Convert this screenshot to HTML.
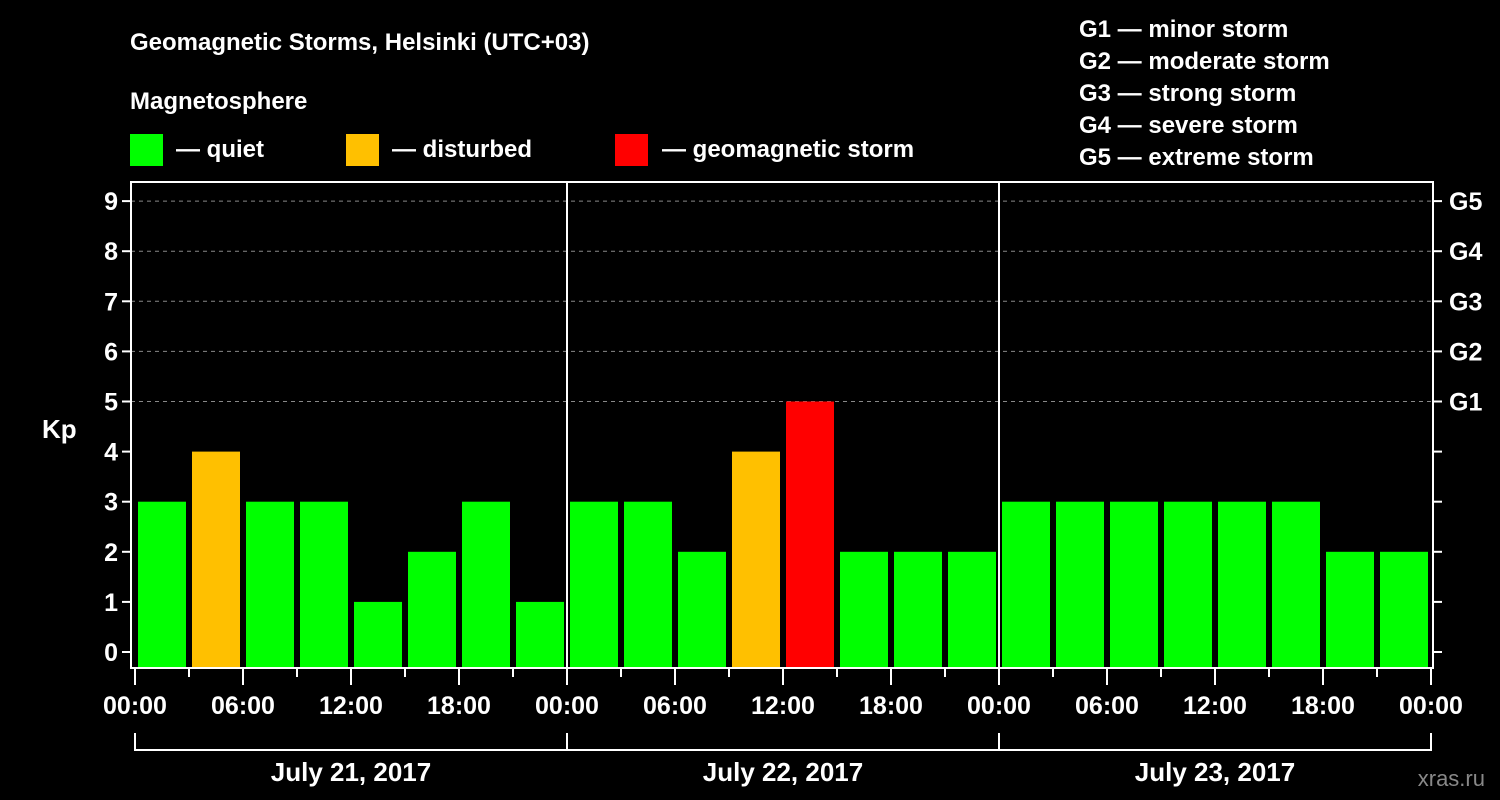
<!DOCTYPE html>
<html><head><meta charset="utf-8"><style>
body{margin:0;background:#000;}
svg{display:block;font-family:"Liberation Sans",Arial,sans-serif;font-weight:bold;}
</style></head><body>
<svg id="c" width="1500" height="800">
<rect width="1500" height="800" fill="#000"/>
<text x="130" y="50" fill="#fff" font-size="24">Geomagnetic Storms, Helsinki (UTC+03)</text>
<text x="130" y="109" fill="#fff" font-size="24">Magnetosphere</text>
<g><rect x="130" y="134" width="33" height="32" fill="#00ff00"/><text x="176" y="157" fill="#fff" font-size="24">— quiet</text></g>
<g><rect x="346" y="134" width="33" height="32" fill="#ffc000"/><text x="392" y="157" fill="#fff" font-size="24">— disturbed</text></g>
<g><rect x="615" y="134" width="33" height="32" fill="#ff0000"/><text x="662" y="157" fill="#fff" font-size="24">— geomagnetic storm</text></g>
<g fill="#fff" font-size="24">
<text x="1079" y="37">G1 — minor storm</text>
<text x="1079" y="69">G2 — moderate storm</text>
<text x="1079" y="101">G3 — strong storm</text>
<text x="1079" y="133">G4 — severe storm</text>
<text x="1079" y="165">G5 — extreme storm</text>
</g>
<text x="42" y="438" fill="#fff" font-size="26">Kp</text>
<text x="1485" y="786" fill="#888" font-size="22" text-anchor="end" font-weight="normal">xras.ru</text>
<g id="plot"></g>
</svg>
<script>
const days = ["July 21, 2017","July 22, 2017","July 23, 2017"];
const kpValues = [3,4,3,3,1,2,3,1, 3,3,2,4,5,2,2,2, 3,3,3,3,3,3,2,2];
const hourLabels = ["00:00","06:00","12:00","18:00"];
const gLabels = ["G1","G2","G3","G4","G5"];
const yTicks = [0,1,2,3,4,5,6,7,8,9];

const NS="http://www.w3.org/2000/svg";
const g=document.getElementById('plot');
const x0=135, dayW=432, L=131, R=1433, T=182, B=668;
const xs=h=>x0+h*dayW/24;
const ys=v=>652-v*50.1;
function mk(t,a){const e=document.createElementNS(NS,t);for(const k in a)e.setAttribute(k,a[k]);g.appendChild(e);return e;}
function txt(x,y,s,anchor,size){const e=mk('text',{x:x,y:y,fill:'#fff','font-size':size,'text-anchor':anchor});e.textContent=s;return e;}
// grid
for(let v=5;v<=9;v++){const e=mk('line',{x1:L,x2:R,y1:ys(v),y2:ys(v),stroke:'#888','stroke-dasharray':'4,4'});

}
// bars
kpValues.forEach((v,i)=>{
 const col=v>=5?'#ff0000':(v>=4?'#ffc000':'#00ff00');
 const e=mk('rect',{x:xs(i*3)+3,y:ys(v),width:dayW/8-6,height:B-ys(v),fill:col});
 
 
});
// day separators
for(let d=1;d<days.length;d++){const e=mk('line',{x1:xs(d*24),x2:xs(d*24),y1:T,y2:B,stroke:'#fff','stroke-width':2});

}
// frame
const fr=mk('rect',{x:L,y:T,width:R-L,height:B-T,fill:'none',stroke:'#fff','stroke-width':2});


// y ticks
yTicks.forEach(v=>{
 mk('line',{x1:L-9,x2:L,y1:ys(v),y2:ys(v),stroke:'#fff','stroke-width':2});
 mk('line',{x1:R,x2:R+9,y1:ys(v),y2:ys(v),stroke:'#fff','stroke-width':2});
 const t=txt(L-13,ys(v)+9,String(v),'end',25);
 
 
});
gLabels.forEach((s,i)=>{const t=txt(R+16,ys(5+i)+9,s,'start',25);
 
 });
// x ticks
for(let h=0;h<=24*days.length;h+=3){
 const major=h%6===0;
 mk('line',{x1:xs(h),x2:xs(h),y1:B,y2:B+(major?17:9),stroke:'#fff','stroke-width':2});
}
for(let h=0;h<=24*days.length;h+=6){
 const t=txt(xs(h),B+46,hourLabels[(h/6)%4],'middle',25);
 
 
}
// day brackets
days.forEach((d,i)=>{
 const a=xs(i*24),b=xs((i+1)*24);
 mk('path',{d:`M${a} 733V750H${b}V733`,fill:'none',stroke:'#fff','stroke-width':2});
 const t=txt((a+b)/2,781,d,'middle',26);
 
 
});
</script>
</body></html>
